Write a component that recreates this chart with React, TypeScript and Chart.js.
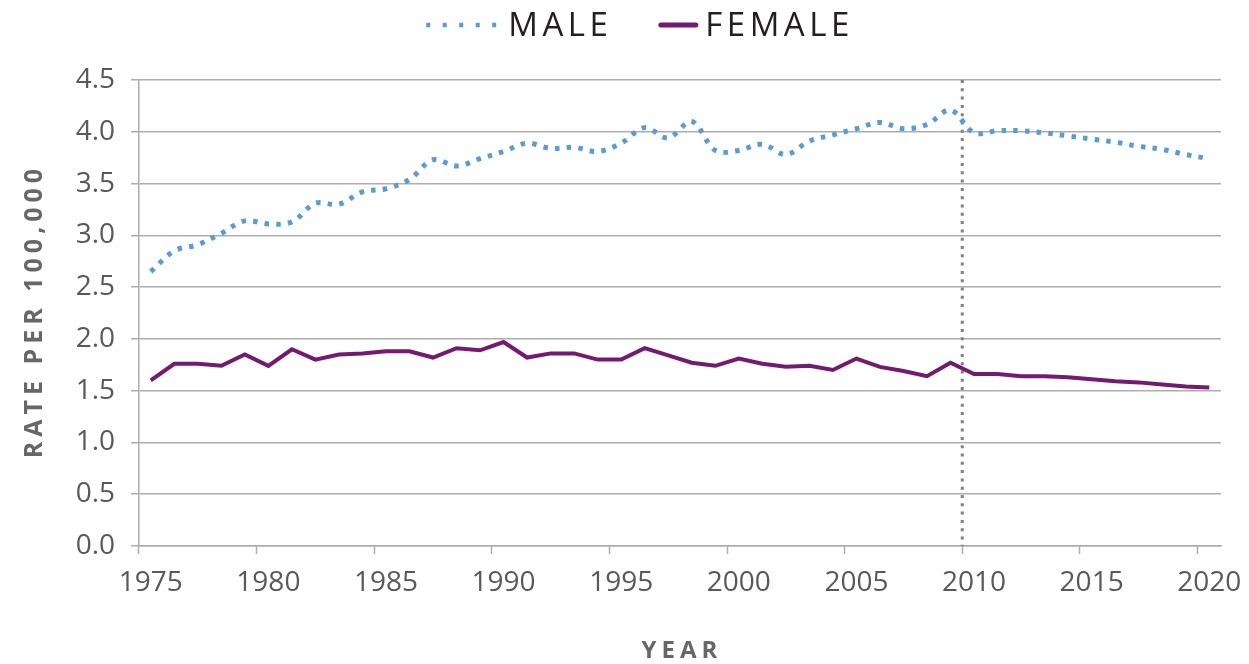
import React, { useEffect, useRef } from 'react';
import { Chart, registerables } from 'chart.js';

Chart.register(...registerables);

const years = [
  '1975', '1976', '1977', '1978', '1979', '1980', '1981', '1982', '1983', '1984',
  '1985', '1986', '1987', '1988', '1989', '1990', '1991', '1992', '1993', '1994',
  '1995', '1996', '1997', '1998', '1999', '2000', '2001', '2002', '2003', '2004',
  '2005', '2006', '2007', '2008', '2009', '2010', '2011', '2012', '2013', '2014',
  '2015', '2016', '2017', '2018', '2019', '2020',
];

const maleRates = [
  2.65, 2.85, 2.91, 3.02, 3.14, 3.11, 3.13, 3.31, 3.30, 3.42,
  3.45, 3.54, 3.73, 3.67, 3.74, 3.81, 3.89, 3.84, 3.85, 3.81,
  3.89, 4.04, 3.94, 4.10, 3.82, 3.82, 3.88, 3.78, 3.91, 3.97,
  4.03, 4.09, 4.03, 4.07, 4.21, 3.99, 4.01, 4.01, 3.99, 3.96,
  3.93, 3.90, 3.86, 3.83, 3.78, 3.74,
];

const femaleRates = [
  1.60, 1.76, 1.76, 1.74, 1.85, 1.74, 1.90, 1.80, 1.85, 1.86,
  1.88, 1.88, 1.82, 1.91, 1.89, 1.97, 1.82, 1.86, 1.86, 1.80,
  1.80, 1.91, 1.84, 1.77, 1.74, 1.81, 1.76, 1.73, 1.74, 1.70,
  1.81, 1.73, 1.69, 1.64, 1.77, 1.66, 1.66, 1.64, 1.64, 1.63,
  1.61, 1.59, 1.58, 1.56, 1.54, 1.53,
];

const seriesNames = ['MALE', 'FEMALE'];
const markerYear = '2010';
const yTitle = 'RATE PER 100,000';
const xTitle = 'YEAR';

const MALE_COLOR = '#5a9bd5';
const FEMALE_COLOR = '#741a70';
const GRID_COLOR = '#adadad';
const TICK_COLOR = '#595959';
const TITLE_COLOR = '#676767';
const FONT = "'Open Sans', 'Noto Sans', sans-serif";

const W = 1249;
const H = 664;

const decorations = {
  id: 'decorations',
  beforeDatasetsDraw(chart: any) {
    const { ctx, chartArea, scales } = chart;
    const xs = scales.x;
    const idx = years.indexOf(markerYear);
    const x = (xs.getPixelForValue(idx - 1) + xs.getPixelForValue(idx)) / 2;
    ctx.save();
    ctx.strokeStyle = '#808080';
    ctx.lineWidth = 3;
    ctx.setLineDash([3, 5.3]);
    ctx.beginPath();
    ctx.moveTo(x, chartArea.top);
    ctx.lineTo(x, chartArea.bottom);
    ctx.stroke();
    ctx.restore();
  },
  afterDraw(chart: any) {
    const { ctx, chartArea } = chart;
    // Axis titles
    ctx.save();
    ctx.fillStyle = TITLE_COLOR;
    ctx.font = `bold 25px ${FONT}`;
    (ctx as any).letterSpacing = '5px';
    ctx.textAlign = 'center';
    ctx.textBaseline = 'alphabetic';
    ctx.translate(42, (chartArea.top + chartArea.bottom) / 2);
    ctx.rotate(-Math.PI / 2);
    ctx.fillText(yTitle, 2, 0);
    ctx.restore();

    ctx.save();
    ctx.fillStyle = TITLE_COLOR;
    ctx.font = `bold 24px ${FONT}`;
    (ctx as any).letterSpacing = '5px';
    ctx.textAlign = 'center';
    ctx.textBaseline = 'alphabetic';
    ctx.fillText(xTitle, (chartArea.left + chartArea.right) / 2 + 2, 658);
    ctx.restore();

    // Legend
    ctx.save();
    ctx.font = `33px ${FONT}`;
    (ctx as any).letterSpacing = '4.5px';
    ctx.fillStyle = '#231f20';
    ctx.textAlign = 'left';
    ctx.textBaseline = 'alphabetic';
    const maleLine = 70;
    const femaleLine = 40;
    const wMale = ctx.measureText(seriesNames[0]).width;
    const wFemale = ctx.measureText(seriesNames[1]).width;
    const total = maleLine + 12 + wMale + 46 + femaleLine + 7 + wFemale;
    let x = 640 - total / 2;
    const ly = 25;
    const by = 36;
    ctx.strokeStyle = MALE_COLOR;
    ctx.lineWidth = 4.5;
    ctx.setLineDash([4, 12.5]);
    ctx.beginPath();
    ctx.moveTo(x, ly);
    ctx.lineTo(x + maleLine, ly);
    ctx.stroke();
    x += maleLine + 12;
    ctx.fillText(seriesNames[0], x, by);
    x += wMale + 46;
    ctx.setLineDash([]);
    ctx.strokeStyle = FEMALE_COLOR;
    ctx.lineWidth = 5;
    ctx.lineCap = 'round';
    ctx.beginPath();
    ctx.moveTo(x + 2.5, ly);
    ctx.lineTo(x + femaleLine - 2.5, ly);
    ctx.stroke();
    x += femaleLine + 7;
    ctx.fillText(seriesNames[1], x, by);
    ctx.restore();
  },
};

export default function App() {
  const canvasRef = useRef<HTMLCanvasElement | null>(null);

  useEffect(() => {
    if (!canvasRef.current) return;
    const chart = new Chart(canvasRef.current, {
      type: 'line',
      data: {
        labels: years,
        datasets: [
          {
            label: seriesNames[0],
            data: maleRates,
            borderColor: MALE_COLOR,
            backgroundColor: MALE_COLOR,
            borderWidth: 5,
            borderDash: [4.5, 7.2],
            tension: 0.35,
            pointRadius: 0,
            fill: false,
          },
          {
            label: seriesNames[1],
            data: femaleRates,
            borderColor: FEMALE_COLOR,
            backgroundColor: FEMALE_COLOR,
            borderWidth: 4,
            tension: 0,
            pointRadius: 0,
            fill: false,
          },
        ],
      },
      options: {
        responsive: false,
        maintainAspectRatio: false,
        animation: false,
        layout: { padding: { top: 80, right: 28, left: 0, bottom: 0 } },
        plugins: {
          legend: { display: false },
          tooltip: { enabled: false },
        },
        scales: {
          x: {
            type: 'category',
            offset: true,
            afterFit: (s: any) => {
              s.height = 118;
              s.paddingLeft = 0;
              s.paddingRight = 0;
            },
            grid: {
              offset: true,
              drawOnChartArea: false,
              drawTicks: true,
              tickLength: 8,
              tickWidth: 1.5,
              tickColor: (c: any) => {
                const y = years[c.index];
                return y !== undefined && Number(y) % 5 === 0 ? GRID_COLOR : 'rgba(0,0,0,0)';
              },
            },
            border: { color: GRID_COLOR, width: 1.5 },
            ticks: {
              autoSkip: false,
              maxRotation: 0,
              minRotation: 0,
              padding: 12,
              color: TICK_COLOR,
              font: { family: FONT, size: 28 },
              callback: (_v: any, i: number) => (Number(years[i]) % 5 === 0 ? years[i] : ''),
            },
          },
          y: {
            min: 0,
            max: 4.5,
            afterFit: (s: any) => {
              s.width = 139;
              s.paddingTop = 0;
              s.paddingBottom = 0;
            },
            grid: {
              color: GRID_COLOR,
              lineWidth: 1.5,
              drawTicks: true,
              tickLength: 8,
              tickColor: GRID_COLOR,
            },
            border: { color: GRID_COLOR, width: 1.5 },
            ticks: {
              stepSize: 0.5,
              padding: 16,
              color: TICK_COLOR,
              font: { family: FONT, size: 28 },
              callback: (v: any) => Number(v).toFixed(1),
            },
          },
        },
      },
      plugins: [decorations],
    });
    return () => chart.destroy();
  }, []);

  return (
    <div style={{ position: 'absolute', left: 0, top: 0, width: W, height: H }}>
      <canvas ref={canvasRef} width={W} height={H} style={{ display: 'block' }} />
    </div>
  );
}
